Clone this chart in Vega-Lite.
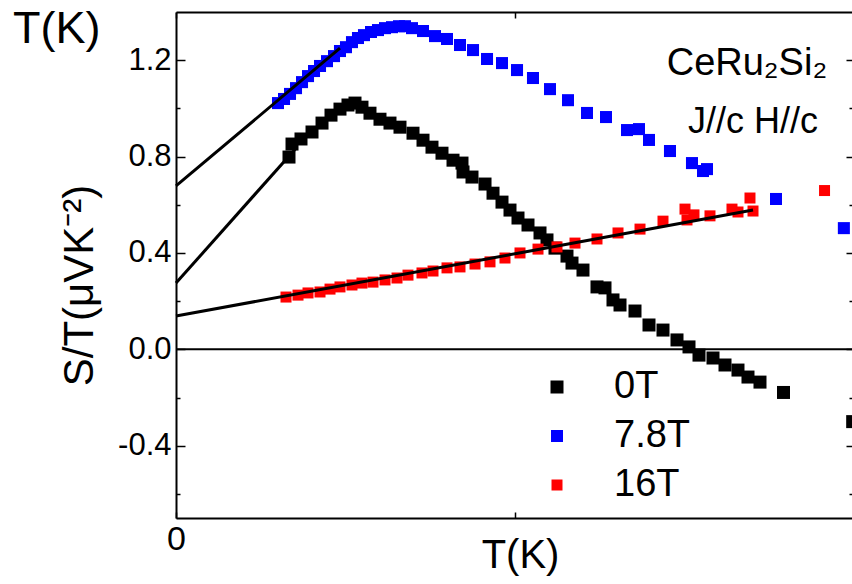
{
  "$schema": "https://vega.github.io/schema/vega-lite/v6.json",
  "width": 676,
  "height": 506,
  "autosize": {"type": "none"},
  "padding": {"left": 176, "top": 12, "right": 0, "bottom": 66},
  "background": "white",
  "config": {
    "font": "Liberation Sans",
    "view": {"stroke": null},
    "axis": {
      "grid": false,
      "domainColor": "black",
      "domainWidth": 2,
      "tickColor": "black",
      "tickWidth": 1.5,
      "labelColor": "black",
      "titleColor": "black",
      "labelFont": "Liberation Sans",
      "titleFont": "Liberation Sans",
      "titleFontWeight": "normal"
    }
  },
  "title": {
    "text": "T(K)",
    "anchor": "start",
    "frame": "group",
    "font": "Liberation Sans",
    "fontSize": 45,
    "fontWeight": "normal",
    "color": "black",
    "baseline": "alphabetic",
    "offset": 0,
    "dx": -163,
    "dy": 77
  },
  "datasets": {
    "pts": [
      {"series": "0T", "T": 3.333, "S": 0.798},
      {"series": "0T", "T": 3.422, "S": 0.852},
      {"series": "0T", "T": 3.687, "S": 0.873},
      {"series": "0T", "T": 4.012, "S": 0.902},
      {"series": "0T", "T": 4.307, "S": 0.939},
      {"series": "0T", "T": 4.572, "S": 0.972},
      {"series": "0T", "T": 4.837, "S": 0.997},
      {"series": "0T", "T": 5.073, "S": 1.014},
      {"series": "0T", "T": 5.28, "S": 1.022},
      {"series": "0T", "T": 5.486, "S": 1.005},
      {"series": "0T", "T": 5.722, "S": 0.98},
      {"series": "0T", "T": 6.017, "S": 0.955},
      {"series": "0T", "T": 6.312, "S": 0.939},
      {"series": "0T", "T": 6.607, "S": 0.922},
      {"series": "0T", "T": 6.991, "S": 0.897},
      {"series": "0T", "T": 7.286, "S": 0.868},
      {"series": "0T", "T": 7.551, "S": 0.839},
      {"series": "0T", "T": 7.846, "S": 0.814},
      {"series": "0T", "T": 8.171, "S": 0.785},
      {"series": "0T", "T": 8.436, "S": 0.773},
      {"series": "0T", "T": 8.466, "S": 0.736},
      {"series": "0T", "T": 8.731, "S": 0.715},
      {"series": "0T", "T": 9.115, "S": 0.686},
      {"series": "0T", "T": 9.351, "S": 0.648},
      {"series": "0T", "T": 9.616, "S": 0.611},
      {"series": "0T", "T": 9.852, "S": 0.578},
      {"series": "0T", "T": 10.088, "S": 0.545},
      {"series": "0T", "T": 10.383, "S": 0.516},
      {"series": "0T", "T": 10.737, "S": 0.483},
      {"series": "0T", "T": 10.943, "S": 0.454},
      {"series": "0T", "T": 11.179, "S": 0.42},
      {"series": "0T", "T": 11.533, "S": 0.387},
      {"series": "0T", "T": 11.681, "S": 0.358},
      {"series": "0T", "T": 12.005, "S": 0.329},
      {"series": "0T", "T": 12.418, "S": 0.259},
      {"series": "0T", "T": 12.654, "S": 0.255},
      {"series": "0T", "T": 12.89, "S": 0.205},
      {"series": "0T", "T": 13.097, "S": 0.184},
      {"series": "0T", "T": 13.539, "S": 0.159},
      {"series": "0T", "T": 13.952, "S": 0.101},
      {"series": "0T", "T": 14.365, "S": 0.08},
      {"series": "0T", "T": 14.778, "S": 0.039},
      {"series": "0T", "T": 15.132, "S": 0.01},
      {"series": "0T", "T": 15.427, "S": -0.024},
      {"series": "0T", "T": 15.84, "S": -0.036},
      {"series": "0T", "T": 16.194, "S": -0.065},
      {"series": "0T", "T": 16.577, "S": -0.086},
      {"series": "0T", "T": 16.872, "S": -0.115},
      {"series": "0T", "T": 17.226, "S": -0.136},
      {"series": "0T", "T": 17.92, "S": -0.179},
      {"series": "0T", "T": 19.96, "S": -0.3},
      {"series": "7.8T", "T": 3.009, "S": 1.022},
      {"series": "7.8T", "T": 3.186, "S": 1.039},
      {"series": "7.8T", "T": 3.363, "S": 1.06},
      {"series": "7.8T", "T": 3.54, "S": 1.084},
      {"series": "7.8T", "T": 3.717, "S": 1.109},
      {"series": "7.8T", "T": 3.894, "S": 1.134},
      {"series": "7.8T", "T": 4.071, "S": 1.155},
      {"series": "7.8T", "T": 4.248, "S": 1.176},
      {"series": "7.8T", "T": 4.454, "S": 1.196},
      {"series": "7.8T", "T": 4.661, "S": 1.217},
      {"series": "7.8T", "T": 4.837, "S": 1.238},
      {"series": "7.8T", "T": 5.014, "S": 1.254},
      {"series": "7.8T", "T": 5.191, "S": 1.275},
      {"series": "7.8T", "T": 5.368, "S": 1.292},
      {"series": "7.8T", "T": 5.545, "S": 1.304},
      {"series": "7.8T", "T": 5.752, "S": 1.317},
      {"series": "7.8T", "T": 5.958, "S": 1.325},
      {"series": "7.8T", "T": 6.165, "S": 1.333},
      {"series": "7.8T", "T": 6.371, "S": 1.337},
      {"series": "7.8T", "T": 6.578, "S": 1.341},
      {"series": "7.8T", "T": 6.755, "S": 1.341},
      {"series": "7.8T", "T": 6.961, "S": 1.333},
      {"series": "7.8T", "T": 7.286, "S": 1.321},
      {"series": "7.8T", "T": 7.64, "S": 1.3},
      {"series": "7.8T", "T": 7.994, "S": 1.288},
      {"series": "7.8T", "T": 8.377, "S": 1.263},
      {"series": "7.8T", "T": 8.761, "S": 1.242},
      {"series": "7.8T", "T": 9.174, "S": 1.205},
      {"series": "7.8T", "T": 9.616, "S": 1.188},
      {"series": "7.8T", "T": 10.059, "S": 1.159},
      {"series": "7.8T", "T": 10.53, "S": 1.126},
      {"series": "7.8T", "T": 11.032, "S": 1.08},
      {"series": "7.8T", "T": 11.563, "S": 1.034},
      {"series": "7.8T", "T": 12.123, "S": 0.981},
      {"series": "7.8T", "T": 12.684, "S": 0.964},
      {"series": "7.8T", "T": 13.303, "S": 0.91},
      {"series": "7.8T", "T": 13.657, "S": 0.914},
      {"series": "7.8T", "T": 13.952, "S": 0.869},
      {"series": "7.8T", "T": 14.571, "S": 0.823},
      {"series": "7.8T", "T": 15.22, "S": 0.773},
      {"series": "7.8T", "T": 15.545, "S": 0.74},
      {"series": "7.8T", "T": 15.663, "S": 0.748},
      {"series": "7.8T", "T": 17.698, "S": 0.624},
      {"series": "7.8T", "T": 19.7, "S": 0.503},
      {"series": "16T", "T": 3.245, "S": 0.217},
      {"series": "16T", "T": 3.599, "S": 0.225},
      {"series": "16T", "T": 3.894, "S": 0.234},
      {"series": "16T", "T": 4.248, "S": 0.238},
      {"series": "16T", "T": 4.543, "S": 0.25},
      {"series": "16T", "T": 4.837, "S": 0.259},
      {"series": "16T", "T": 5.191, "S": 0.267},
      {"series": "16T", "T": 5.486, "S": 0.275},
      {"series": "16T", "T": 5.811, "S": 0.279},
      {"series": "16T", "T": 6.165, "S": 0.288},
      {"series": "16T", "T": 6.519, "S": 0.296},
      {"series": "16T", "T": 6.843, "S": 0.308},
      {"series": "16T", "T": 7.256, "S": 0.317},
      {"series": "16T", "T": 7.581, "S": 0.325},
      {"series": "16T", "T": 7.994, "S": 0.338},
      {"series": "16T", "T": 8.377, "S": 0.342},
      {"series": "16T", "T": 8.82, "S": 0.354},
      {"series": "16T", "T": 9.262, "S": 0.363},
      {"series": "16T", "T": 9.704, "S": 0.379},
      {"series": "16T", "T": 10.147, "S": 0.4},
      {"series": "16T", "T": 10.678, "S": 0.416},
      {"series": "16T", "T": 11.238, "S": 0.425},
      {"series": "16T", "T": 11.769, "S": 0.441},
      {"series": "16T", "T": 12.418, "S": 0.458},
      {"series": "16T", "T": 13.038, "S": 0.483},
      {"series": "16T", "T": 13.687, "S": 0.499},
      {"series": "16T", "T": 14.365, "S": 0.532},
      {"series": "16T", "T": 15.014, "S": 0.582},
      {"series": "16T", "T": 15.073, "S": 0.537},
      {"series": "16T", "T": 15.279, "S": 0.558},
      {"series": "16T", "T": 15.751, "S": 0.554},
      {"series": "16T", "T": 16.4, "S": 0.582},
      {"series": "16T", "T": 16.577, "S": 0.57},
      {"series": "16T", "T": 16.931, "S": 0.628},
      {"series": "16T", "T": 17.02, "S": 0.574},
      {"series": "16T", "T": 19.13, "S": 0.659}
    ],
    "fits": [
      {"fit": "7.8T", "T1": 0, "S1": 0.678, "T2": 4.837, "S2": 1.25},
      {"fit": "0T", "T1": 0, "S1": 0.275, "T2": 3.54, "S2": 0.835},
      {"fit": "16T", "T1": 0, "S1": 0.138, "T2": 17.02, "S2": 0.578}
    ],
    "notes": [
      {"id": "sample", "note": "CeRu₂Si₂"},
      {"id": "geometry", "note": "J//c H//c"}
    ]
  },
  "layer": [
    {
      "data": {"name": "pts"},
      "mark": {"type": "square", "filled": true, "opacity": 1},
      "encoding": {
        "x": {
          "field": "T", "type": "quantitative",
          "scale": {"domain": [0, 19.94], "nice": false, "zero": false},
          "axis": {"orient": "top", "values": [0, 10, 20], "labels": false, "title": null, "tickSize": -6, "domain": true}
        },
        "y": {
          "field": "S", "type": "quantitative",
          "scale": {"domain": [-0.7, 1.4], "nice": false, "zero": false},
          "axis": {
            "orient": "right", "values": [-0.6, -0.4, -0.2, 0, 0.2, 0.4, 0.6, 0.8, 1, 1.2],
            "labels": false, "title": null, "domain": false,
            "tickSize": {"condition": {"test": "abs(round(datum.value*10)) % 4 == 0", "value": -6}, "value": -3}
          }
        },
        "color": {
          "field": "series", "type": "nominal",
          "scale": {"domain": ["0T", "7.8T", "16T"], "range": ["#000000", "#0000ff", "#ff0000"]},
          "legend": {
            "orient": "none", "legendX": 362, "legendY": 356, "title": null,
            "labelFontSize": 38, "labelFont": "Liberation Sans", "labelColor": "black",
            "symbolType": "square", "symbolSize": 100, "symbolStrokeWidth": 0,
            "labelOffset": 38, "rowPadding": 11, "padding": 0
          }
        },
        "size": {
          "field": "series", "type": "nominal",
          "scale": {"domain": ["0T", "7.8T", "16T"], "range": [169, 121, 110]},
          "legend": null
        }
      }
    },
    {
      "layer": [
        {
          "data": {"name": "fits"},
          "mark": {"type": "rule", "color": "black", "strokeWidth": 3},
          "encoding": {
            "x": {
              "field": "T1", "type": "quantitative",
              "scale": {"domain": [0, 19.94], "nice": false, "zero": false},
              "axis": {
                "orient": "bottom", "values": [0, 10, 20], "tickSize": -6, "labelFlush": false,
                "labelExpr": "datum.value == 0 ? '0' : ''", "labelFontSize": 34, "labelPadding": 10,
                "title": "T(K)", "titleFontSize": 40, "titleX": 344, "titleY": 49,
                "titleBaseline": "alphabetic", "titleAlign": "center"
              }
            },
            "y": {
              "field": "S1", "type": "quantitative",
              "scale": {"domain": [-0.7, 1.4], "nice": false, "zero": false},
              "axis": {
                "orient": "left", "values": [-0.6, -0.4, -0.2, 0, 0.2, 0.4, 0.6, 0.8, 1, 1.2],
                "tickSize": {"condition": {"test": "abs(round(datum.value*10)) % 4 == 0", "value": -9}, "value": -4},
                "labelExpr": "abs(round(datum.value*10)) % 4 == 0 ? replace(format(datum.value, '.1f'), '\u2212', '-') : ''",
                "labelFontSize": 31, "labelPadding": 14,
                "title": "S/T(μVK⁻²)", "titleFontSize": 42, "titleX": -84, "titleY": 273,
                "titleBaseline": "alphabetic", "titleAngle": 270, "titleAlign": "center"
              }
            },
            "x2": {"field": "T2"},
            "y2": {"field": "S2"}
          }
        },
        {
          "data": {"name": "fits"},
          "transform": [{"filter": "datum.fit == '0T'"}],
          "mark": {"type": "rule", "color": "black", "strokeWidth": 2},
          "encoding": {"y": {"datum": 0}}
        },
        {
          "data": {"name": "notes"},
          "transform": [{"filter": "datum.id == 'sample'"}],
          "mark": {"type": "text", "fontSize": 38, "font": "Liberation Sans", "align": "center", "baseline": "alphabetic", "color": "black"},
          "encoding": {"x": {"datum": 16.84}, "y": {"datum": 1.138}, "text": {"field": "note"}}
        },
        {
          "data": {"name": "notes"},
          "transform": [{"filter": "datum.id == 'geometry'"}],
          "mark": {"type": "text", "fontSize": 36, "font": "Liberation Sans", "align": "center", "baseline": "alphabetic", "color": "black"},
          "encoding": {"x": {"datum": 17.02}, "y": {"datum": 0.897}, "text": {"field": "note"}}
        }
      ]
    }
  ],
  "resolve": {
    "scale": {"x": "independent", "y": "independent"},
    "axis": {"x": "independent", "y": "independent"}
  }
}
